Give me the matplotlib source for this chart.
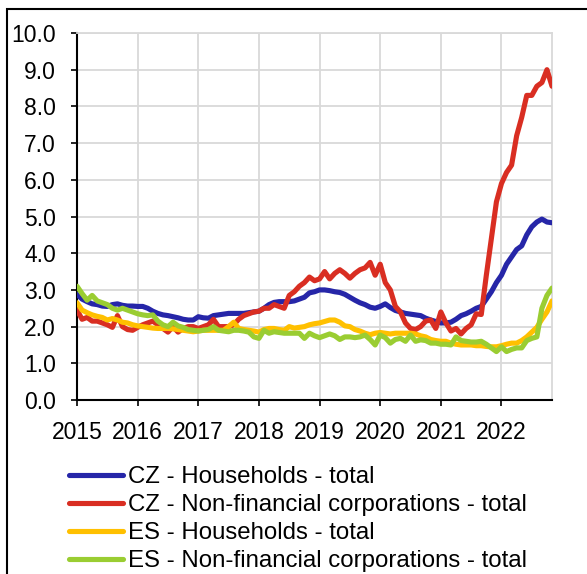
import numpy as np
import matplotlib
matplotlib.use("Agg")
import matplotlib.pyplot as plt
from matplotlib.patches import Rectangle

# monthly data, Jan 2015 - Nov 2022
cz_households = [2.88, 2.75, 2.68, 2.62, 2.6, 2.56, 2.55, 2.6, 2.62, 2.58, 2.56, 2.56,
                 2.55, 2.55, 2.5, 2.42, 2.36, 2.32, 2.3, 2.27, 2.24, 2.2, 2.18, 2.18,
                 2.27, 2.24, 2.23, 2.3, 2.32, 2.34, 2.36, 2.36, 2.36, 2.36, 2.38, 2.4,
                 2.42, 2.5, 2.6, 2.66, 2.68, 2.68, 2.68, 2.7, 2.75, 2.8, 2.92, 2.95,
                 3.0, 3.0, 2.98, 2.95, 2.93, 2.88, 2.8, 2.72, 2.65, 2.6, 2.53, 2.5,
                 2.55, 2.62, 2.52, 2.44, 2.4, 2.36, 2.34, 2.32, 2.3, 2.23, 2.18, 2.14,
                 2.1, 2.1, 2.12, 2.2, 2.3, 2.35, 2.42, 2.5, 2.55, 2.75, 2.95, 3.2,
                 3.4, 3.7, 3.9, 4.1, 4.2, 4.5, 4.72, 4.85, 4.93, 4.85, 4.83]
cz_corporations = [2.45, 2.2, 2.25, 2.15, 2.15, 2.1, 2.05, 1.98, 2.3, 2.0, 1.92, 1.9,
                   1.98, 2.05, 2.1, 2.15, 2.05, 1.95, 1.85, 2.0, 1.85, 1.95, 2.0, 2.0,
                   1.95, 2.0, 2.05, 2.2, 2.0, 2.0, 2.0, 2.05, 2.2, 2.3, 2.35, 2.4,
                   2.42, 2.5, 2.5, 2.6, 2.55, 2.5, 2.85, 2.95, 3.1, 3.2, 3.35, 3.25,
                   3.3, 3.5, 3.3, 3.45, 3.55, 3.45, 3.32, 3.45, 3.55, 3.6, 3.75, 3.4,
                   3.7, 3.2, 3.0, 2.55, 2.4, 2.1, 1.95, 1.92, 2.0, 2.15, 2.18, 1.95,
                   2.4, 2.1, 1.88, 1.95, 1.8, 1.95, 2.05, 2.35, 2.33, 3.4, 4.4, 5.4,
                   5.9, 6.2, 6.4, 7.2, 7.7, 8.3, 8.3, 8.55, 8.65, 9.0, 8.55]
es_households = [2.65, 2.45, 2.38, 2.32, 2.28, 2.25, 2.18, 2.22, 2.18, 2.12, 2.1, 2.05,
                 2.02, 2.0, 1.98, 1.96, 1.95, 1.95, 1.95, 1.94, 1.92, 1.9, 1.88, 1.86,
                 1.88, 1.9, 1.9, 1.9, 1.9, 1.9, 2.0, 2.12, 1.95, 1.92, 1.9, 1.88,
                 1.85, 1.92, 1.95, 1.95, 1.92, 1.9, 2.0, 1.96, 1.98, 2.0, 2.05, 2.08,
                 2.1, 2.14, 2.18, 2.18, 2.12, 2.02, 2.0, 1.92, 1.88, 1.82, 1.78, 1.82,
                 1.84, 1.82, 1.8, 1.82, 1.82, 1.82, 1.82, 1.8, 1.75, 1.72, 1.65, 1.62,
                 1.6, 1.6, 1.55, 1.52, 1.5, 1.5, 1.5, 1.48, 1.48, 1.46, 1.45, 1.45,
                 1.48, 1.52, 1.55, 1.55, 1.62, 1.72, 1.85, 1.98, 2.2, 2.4, 2.7]
es_corporations = [3.1, 2.9, 2.72, 2.85, 2.7, 2.65, 2.6, 2.5, 2.45, 2.5, 2.45, 2.4,
                   2.35, 2.32, 2.3, 2.32, 2.15, 2.05, 2.0, 2.12, 2.02, 1.98, 1.92, 1.9,
                   1.88, 1.9, 1.92, 2.0, 1.9, 1.88, 1.86, 1.9, 1.9, 1.88, 1.85, 1.72,
                   1.68, 1.9, 1.82, 1.86, 1.84, 1.82, 1.82, 1.82, 1.82, 1.68, 1.82, 1.75,
                   1.7, 1.75, 1.8, 1.75, 1.65, 1.72, 1.72, 1.7, 1.72, 1.77, 1.65, 1.5,
                   1.77, 1.7, 1.55, 1.65, 1.68, 1.6, 1.77, 1.6, 1.64, 1.62, 1.55, 1.55,
                   1.52, 1.52, 1.5, 1.72, 1.62, 1.6, 1.58, 1.58, 1.6, 1.52, 1.42, 1.32,
                   1.45, 1.32, 1.38, 1.42, 1.42, 1.62, 1.68, 1.72, 2.5, 2.85, 3.05]

labels = ["CZ - Households - total",
          "CZ - Non-financial corporations - total",
          "ES - Households - total",
          "ES - Non-financial corporations - total"]
colors = ["#2626A8", "#D92E22", "#FFC000", "#9ACD32"]
years = list(range(2015, 2023))

plt.rcParams['font.family'] = ['Liberation Sans', 'DejaVu Sans']
plt.rcParams['font.size'] = 16.5

x = 2015 + np.arange(len(cz_households)) / 12.0

fig = plt.figure(figsize=(5.87, 5.74), dpi=100)
ax = fig.add_axes([0.1312, 0.3031, 0.8092, 0.6394])

series = [cz_households, cz_corporations, es_households, es_corporations]
for vals, lab, col in zip(series, labels, colors):
    ax.plot(x, vals, color=col, lw=3.7, label=lab, solid_capstyle='round', zorder=3)

ax.set_xlim(2015, x[-1])
ax.set_ylim(0, 10)
ax.set_yticks(np.arange(0, 10.5, 1.0))
ax.set_yticklabels([f"{v:.1f}" for v in np.arange(0, 10.5, 1.0)])
ax.set_xticks(years)
ax.set_xticklabels([str(y) for y in years])
ax.grid(True, color="#D9D9D9", lw=1.3)
ax.set_axisbelow(True)
for s in ["top", "right"]:
    ax.spines[s].set_color("#D9D9D9")
    ax.spines[s].set_linewidth(1.3)
for s in ["left", "bottom"]:
    ax.spines[s].set_color("black")
    ax.spines[s].set_linewidth(1.5)
ax.tick_params(axis='y', length=4.3, width=1.2, pad=11)
ax.tick_params(axis='x', length=4.3, width=1.2, pad=11)

fig.legend(loc='upper left', bbox_to_anchor=(0.118, 0.188), frameon=False,
           handlelength=2.25, handletextpad=0.2, labelspacing=0.25, borderpad=0,
           borderaxespad=0, fontsize=17.3)

fig.patches.append(Rectangle((7 / 587, -0.1), 1.2, 1 - 9 / 574 + 0.1,
                             transform=fig.transFigure, fill=False,
                             edgecolor='black', lw=1.5))

fig.savefig("out.png", dpi=100)
